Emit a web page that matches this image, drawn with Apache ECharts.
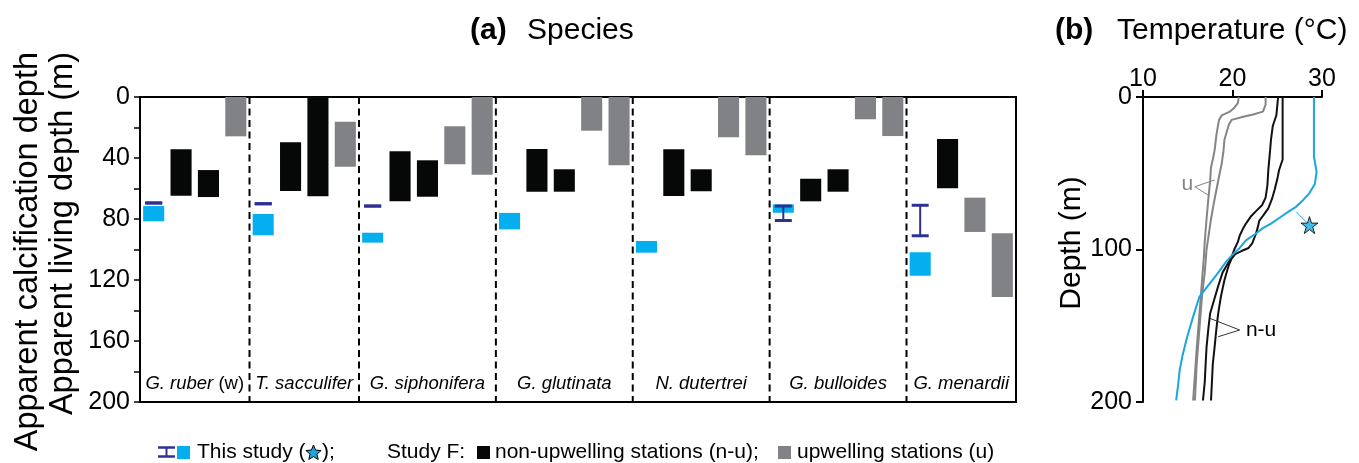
<!DOCTYPE html>
<html>
<head>
<meta charset="utf-8">
<script src="https://cdn.jsdelivr.net/npm/echarts@6/dist/echarts.min.js"></script>
<style>
html,body{margin:0;padding:0;background:#fff;}
#chart{width:1359px;height:463px;}
</style>
</head>
<body>
<div id="chart"></div>
<script>
// ---------------- DATA ----------------
const species = ['G. ruber', 'T. sacculifer', 'G. siphonifera', 'G. glutinata', 'N. dutertrei', 'G. bulloides', 'G. menardii'];
const speciesSuffix = ['(w)', '', '', '', '', '', ''];
// This study: apparent calcification depth range (error bars), m
const thisStudyCalc = [[69.5, 69.5], [70, 70], [71.5, 71.5], null, null, [71.5, 81], [71, 91]];
// This study: apparent living depth range (cyan boxes), m
const thisStudyLiving = [[71.5, 81.5], [76.7, 90.7], [89, 95.5], [76, 86.8], [94.4, 102.1], [70.4, 75.9], [101.8, 117.2]];
// Study F, non-upwelling stations (n-u)
const nonUpwelling = [
  [[34.3, 64.7], [47.9, 65.6]],
  [[29.7, 61.6], [0, 65.1]],
  [[35.6, 68.4], [41.5, 65.4]],
  [[34.1, 62.1], [47.4, 62.1]],
  [[34.3, 64.9], [47.4, 61.8]],
  [[53.6, 68.4], [47.4, 62.1]],
  [[27.5, 59.9]]
];
// Study F, upwelling stations (u)
const upwelling = [
  [[0, 25.8]],
  [[16.2, 45.7]],
  [[19.2, 44.1], [0, 51]],
  [[0, 22.1], [0, 44.8]],
  [[0, 26.4], [0, 38.2]],
  [[0, 14.6], [0, 25.6]],
  [[66, 88.5], [89.4, 131.1]]
];
const depthTicksA = [0, 40, 80, 120, 160, 200];

// Temperature profiles [temperature (°C), depth (m)]
const tempThisStudy = [[29.1,0],[29.1,20],[29.1,39],[29.4,49],[29.2,57],[28.6,63],[27.9,67.5],[27.1,72],[26.3,75],[25.3,79],[24.3,83],[23.4,86],[22.5,90],[21.5,94],[20.8,99],[19.9,104],[19.3,108],[18.3,116],[17.1,125],[16.3,131],[15.6,144],[14.9,158],[14.4,170],[14.1,179],[13.9,190],[13.7,199]];
const tempNU1 = [[25.1,0],[25.0,6],[24.9,12],[24.5,19],[24.3,28],[24.2,35],[24.0,48],[23.9,58],[23.7,66],[23.3,71],[22.6,75],[22.1,78],[21.5,83],[21.2,86],[20.8,91],[20.6,95],[20.2,100],[19.9,105],[19.4,110],[18.9,115],[18.4,124],[18.0,132],[17.5,142],[17.3,152],[17.1,164],[17.0,175],[16.9,187],[16.7,199]];
const tempNU2 = [[25.6,0],[25.6,20],[25.6,41],[25.2,48],[25.0,54],[24.7,61],[24.4,67],[24.0,73],[23.4,78],[23.0,81],[22.8,86],[22.6,90],[22.2,96],[21.8,99],[21.0,101],[20.3,103],[19.9,106],[19.6,110],[19.1,120],[18.7,131],[18.4,142],[18.2,152],[18.0,164],[17.8,175],[17.7,187],[17.6,199]];
const tempU1 = [[20.7,0],[20.6,4],[20.2,7],[19.7,9.6],[18.8,12],[18.5,15],[18.4,18],[18.2,25],[18.0,35],[17.8,41],[17.6,46],[17.5,55],[17.3,67],[17.1,80],[16.9,95],[16.8,105],[16.6,120],[16.4,135],[16.2,150],[16.0,165],[15.8,182],[15.6,199]];
const tempU2 = [[23.7,0],[23.7,5],[23.4,9.6],[22.3,11.5],[21.2,13],[19.9,15],[19.6,18],[19.4,22],[19.1,28],[19.0,35],[18.8,43.5],[18.5,52],[18.2,61],[17.9,70],[17.6,80],[17.3,92],[17.1,100],[16.9,115],[16.6,130],[16.4,145],[16.2,160],[16.0,175],[15.8,199]];
const sampleStar = [28.6, 84];
const tempTicks = [10, 20, 30];
const depthTicksB = [0, 100, 200];

// ---------------- BUILD ----------------
const FONT = 'Liberation Sans, Arial, Helvetica, sans-serif';
const C_CYAN = '#05aeef', C_NAVY = '#2e3192', C_BLACK = '#060808', C_GRAY = '#818285', C_LINE_CYAN = '#1aa6e0', C_LINE_GRAY = '#858585';
const boxColors = [C_CYAN, C_BLACK, C_GRAY];

let slot = 0;
const boxes = [], errs = [], labels = [], dividers = [];
species.forEach((sp, i) => {
  const start = slot;
  boxes.push([slot, thisStudyLiving[i][0], thisStudyLiving[i][1], 0]);
  if (thisStudyCalc[i]) errs.push([slot, thisStudyCalc[i][0], thisStudyCalc[i][1]]);
  slot++;
  nonUpwelling[i].forEach(r => { boxes.push([slot, r[0], r[1], 1]); slot++; });
  upwelling[i].forEach(r => { boxes.push([slot, r[0], r[1], 2]); slot++; });
  labels.push([(start + slot) / 2, 188, i]);
  if (i < species.length - 1) dividers.push(slot);
});
const nSlots = slot;

function starPoints(cx, cy, R, r) {
  const pts = [];
  for (let k = 0; k < 10; k++) {
    const a = -Math.PI / 2 + k * Math.PI / 5;
    const rr = k % 2 === 0 ? R : r;
    pts.push([cx + rr * Math.cos(a), cy + rr * Math.sin(a)]);
  }
  return pts;
}
const STAR_PATH = 'path://M50,2 L61.2,36.6 L97.6,36.6 L68.2,58 L79.4,92.6 L50,71.2 L20.6,92.6 L31.8,58 L2.4,36.6 L38.8,36.6 Z';

const chart = echarts.init(document.getElementById('chart'), null, {renderer: 'canvas'});

const lineSeries = (data, color, width) => ({
  type: 'line', xAxisIndex: 1, yAxisIndex: 1, data: data, showSymbol: false, symbol: 'none',
  lineStyle: {color: color, width: width}, silent: true, animation: false, z: 3
});
const annotLine = (a, b, color) => ({
  type: 'line', xAxisIndex: 1, yAxisIndex: 1, data: [a, b], symbol: 'none',
  lineStyle: {color: color, width: 1}, silent: true, animation: false, z: 4
});
const annotText = (pt, text, color, align) => ({
  type: 'custom', xAxisIndex: 1, yAxisIndex: 1, data: [pt], silent: true, animation: false, z: 5,
  renderItem: (params, api) => {
    const p = api.coord([api.value(0), api.value(1)]);
    return {type: 'text', x: p[0], y: p[1], style: {text: text, fill: color, font: '21px ' + FONT, align: align, verticalAlign: 'middle'}};
  }
});

const option = {
  animation: false,
  backgroundColor: '#fff',
  grid: [
    {left: 140, top: 97, width: 876, height: 305, show: true, borderColor: '#000', borderWidth: 2, backgroundColor: 'transparent'},
    {left: 1143, top: 97, width: 179, height: 305}
  ],
  xAxis: [
    {gridIndex: 0, type: 'value', min: 0, max: nSlots, show: false},
    {gridIndex: 1, type: 'value', position: 'top', min: 10, max: 30, interval: 10,
      axisLine: {show: true, onZero: false, lineStyle: {color: '#000', width: 2}},
      axisTick: {show: true, length: 7, lineStyle: {color: '#000', width: 2}},
      axisLabel: {fontSize: 25, fontFamily: FONT, color: '#000', margin: 5},
      splitLine: {show: false}}
  ],
  yAxis: [
    {gridIndex: 0, type: 'value', inverse: true, min: 0, max: 200, interval: 20,
      axisLine: {show: true, onZero: false, lineStyle: {color: '#000', width: 2}},
      axisTick: {show: true, length: 6, lineStyle: {color: '#000', width: 1.5}},
      axisLabel: {fontSize: 25, fontFamily: FONT, color: '#000', margin: 10,
        formatter: v => depthTicksA.indexOf(v) >= 0 ? String(v) : ''},
      splitLine: {show: false}},
    {gridIndex: 1, type: 'value', inverse: true, min: 0, max: 200, interval: 100,
      axisLine: {show: true, onZero: false, lineStyle: {color: '#000', width: 2}},
      axisTick: {show: true, length: 7, lineStyle: {color: '#000', width: 2}},
      axisLabel: {fontSize: 25, fontFamily: FONT, color: '#000', margin: 11,
        formatter: v => depthTicksB.indexOf(v) >= 0 ? String(v) : ''},
      splitLine: {show: false}}
  ],
  series: [
    // dashed dividers between species
    {type: 'custom', xAxisIndex: 0, yAxisIndex: 0, data: dividers.map(d => [d]), silent: true, z: 1,
      renderItem: (params, api) => {
        const a = api.coord([api.value(0), 0]);
        const b = api.coord([api.value(0), 200]);
        return {type: 'line', shape: {x1: a[0], y1: a[1], x2: b[0], y2: b[1]},
          style: {stroke: '#000', lineWidth: 2, lineDash: [7, 4.5]}};
      }},
    // depth range boxes
    {type: 'custom', xAxisIndex: 0, yAxisIndex: 0, data: boxes, silent: true, z: 2,
      renderItem: (params, api) => {
        const w = api.size([1, 0])[0] * 0.77;
        const p0 = api.coord([api.value(0) + 0.5, api.value(1)]);
        const p1 = api.coord([api.value(0) + 0.5, api.value(2)]);
        return {type: 'rect', shape: {x: p0[0] - w / 2, y: p0[1], width: w, height: p1[1] - p0[1]},
          style: {fill: boxColors[api.value(3)]}};
      }},
    // this study calcification depth error bars
    {type: 'custom', xAxisIndex: 0, yAxisIndex: 0, data: errs, silent: true, z: 3,
      renderItem: (params, api) => {
        const cw = 17;
        const p0 = api.coord([api.value(0) + 0.5, api.value(1)]);
        const p1 = api.coord([api.value(0) + 0.5, api.value(2)]);
        return {type: 'group', children: [
          {type: 'line', shape: {x1: p0[0], y1: p0[1], x2: p1[0], y2: p1[1]}, style: {stroke: C_NAVY, lineWidth: 2}},
          {type: 'line', shape: {x1: p0[0] - cw / 2, y1: p0[1], x2: p0[0] + cw / 2, y2: p0[1]}, style: {stroke: C_NAVY, lineWidth: 3}},
          {type: 'line', shape: {x1: p1[0] - cw / 2, y1: p1[1], x2: p1[0] + cw / 2, y2: p1[1]}, style: {stroke: C_NAVY, lineWidth: 3}}
        ]};
      }},
    // species labels
    {type: 'custom', xAxisIndex: 0, yAxisIndex: 0, data: labels, silent: true, z: 4,
      renderItem: (params, api) => {
        const p = api.coord([api.value(0), api.value(1)]);
        const i = api.value(2);
        const suf = speciesSuffix[i];
        return {type: 'text', x: p[0], y: p[1], style: {
          text: '{i|' + species[i] + '}' + (suf ? '{n| ' + suf + '}' : ''),
          align: 'center', verticalAlign: 'middle',
          rich: {
            i: {fontStyle: 'italic', fontSize: 18.5, fontFamily: FONT, fill: '#000'},
            n: {fontSize: 18.5, fontFamily: FONT, fill: '#000'}
          }}};
      }},
    // temperature profiles
    lineSeries(tempU1, C_LINE_GRAY, 2),
    lineSeries(tempU2, C_LINE_GRAY, 2),
    lineSeries(tempNU1, '#111', 2),
    lineSeries(tempNU2, '#111', 2),
    lineSeries(tempThisStudy, C_LINE_CYAN, 2),
    // annotations
    annotLine([27.1, 75.2], [28.3, 82.3], C_LINE_CYAN),
    annotLine([15.8, 58.8], [18.0, 54.4], C_LINE_GRAY),
    annotLine([15.8, 58.8], [17.26, 64.3], C_LINE_GRAY),
    annotLine([20.8, 152.8], [17.45, 145.1], '#333'),
    annotLine([20.8, 152.8], [18.4, 157.2], '#333'),
    annotText([15.6, 57.5], 'u', C_LINE_GRAY, 'right'),
    annotText([21.5, 152.8], 'n-u', '#000', 'left'),
    {type: 'scatter', xAxisIndex: 1, yAxisIndex: 1, data: [sampleStar], symbol: STAR_PATH, symbolSize: 17,
      itemStyle: {color: C_LINE_CYAN, borderColor: '#000', borderWidth: 1}, silent: true, z: 6}
  ],
  graphic: [
    // titles
    {type: 'text', x: 470, y: 31, style: {text: '(a)', font: 'bold 30px ' + FONT, fill: '#000', align: 'left', verticalAlign: 'middle'}},
    {type: 'text', x: 527, y: 31, style: {text: 'Species', font: '30px ' + FONT, fill: '#000', align: 'left', verticalAlign: 'middle'}},
    {type: 'text', x: 1055, y: 31, style: {text: '(b)', font: 'bold 30px ' + FONT, fill: '#000', align: 'left', verticalAlign: 'middle'}},
    {type: 'text', x: 1117, y: 31, style: {text: 'Temperature (°C)', font: '30px ' + FONT, fill: '#000', align: 'left', verticalAlign: 'middle'}},
    // axis titles
    {type: 'text', x: 28, y: 52, rotation: Math.PI / 2, style: {text: 'Apparent calcification depth', font: '32.5px ' + FONT, fill: '#000', align: 'right', verticalAlign: 'middle'}},
    {type: 'text', x: 63, y: 52, rotation: Math.PI / 2, style: {text: 'Apparent living depth (m)', font: '32.5px ' + FONT, fill: '#000', align: 'right', verticalAlign: 'middle'}},
    {type: 'text', x: 1072, y: 243, rotation: Math.PI / 2, style: {text: 'Depth (m)', font: '30px ' + FONT, fill: '#000', align: 'center', verticalAlign: 'middle'}},
    // legend
    {type: 'line', shape: {x1: 158, y1: 447.5, x2: 175, y2: 447.5}, style: {stroke: C_NAVY, lineWidth: 2.5}},
    {type: 'line', shape: {x1: 158, y1: 456.5, x2: 175, y2: 456.5}, style: {stroke: C_NAVY, lineWidth: 2.5}},
    {type: 'line', shape: {x1: 166.5, y1: 447.5, x2: 166.5, y2: 456.5}, style: {stroke: C_NAVY, lineWidth: 2}},
    {type: 'rect', shape: {x: 177, y: 446, width: 13, height: 13}, style: {fill: C_CYAN}},
    {type: 'text', x: 197, y: 452, style: {text: 'This study (', font: '21px ' + FONT, fill: '#000', align: 'left', verticalAlign: 'middle'}},
    {type: 'polygon', shape: {points: starPoints(313.5, 453, 8, 3.6)}, style: {fill: C_LINE_CYAN, stroke: '#000', lineWidth: 1}},
    {type: 'text', x: 322, y: 452, style: {text: ');', font: '21px ' + FONT, fill: '#000', align: 'left', verticalAlign: 'middle'}},
    {type: 'text', x: 387, y: 452, style: {text: 'Study F:', font: '21px ' + FONT, fill: '#000', align: 'left', verticalAlign: 'middle'}},
    {type: 'rect', shape: {x: 477, y: 446, width: 13, height: 13}, style: {fill: C_BLACK}},
    {type: 'text', x: 495, y: 452, style: {text: 'non-upwelling stations (n-u);', font: '21px ' + FONT, fill: '#000', align: 'left', verticalAlign: 'middle'}},
    {type: 'rect', shape: {x: 778, y: 446, width: 13, height: 13}, style: {fill: C_GRAY}},
    {type: 'text', x: 797, y: 452, style: {text: 'upwelling stations (u)', font: '21px ' + FONT, fill: '#000', align: 'left', verticalAlign: 'middle'}}
  ]
};
chart.setOption(option);
</script>
</body>
</html>
